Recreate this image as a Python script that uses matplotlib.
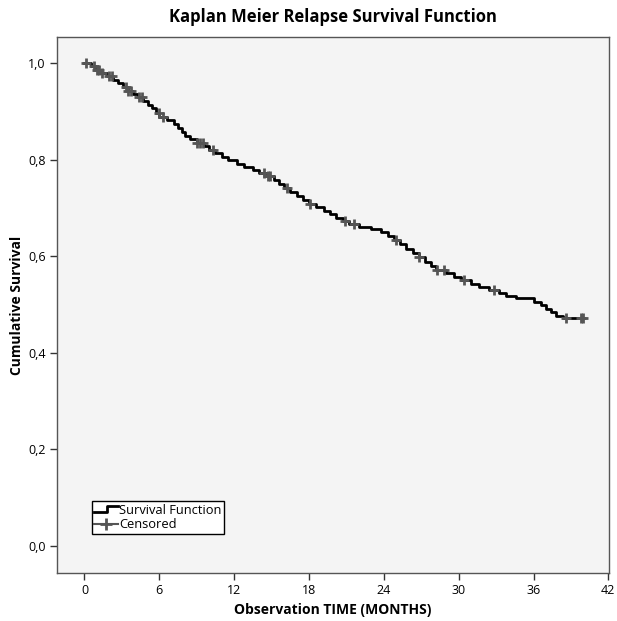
import matplotlib
matplotlib.use("Agg")
import matplotlib.pyplot as plt
import numpy as np
from matplotlib.lines import Line2D
from matplotlib.legend_handler import HandlerBase

# ---- data ----
event_times = [0.0, 0.5, 0.9, 1.3, 1.8, 2.3, 2.7, 3.1, 3.5, 3.9, 4.3, 4.7, 5.1, 5.4, 5.7,
               6.0, 6.6, 7.2, 7.5, 7.8, 8.1, 8.5, 9.0, 9.6, 10.0, 10.5, 11.0, 11.5, 12.2,
               12.8, 13.5, 14.0, 14.6, 15.2, 15.6, 16.0, 16.5, 17.0, 17.5, 18.0, 18.6,
               19.2, 19.7, 20.2, 20.7, 21.2, 22.0, 23.0, 23.8, 24.3, 24.8, 25.3, 25.8,
               26.3, 26.8, 27.3, 27.8, 28.2, 29.0, 29.6, 30.2, 31.0, 31.6, 32.4, 33.2,
               33.8, 34.6, 36.0, 36.6, 37.0, 37.4, 37.8, 38.4]
survival = [1.000, 0.993, 0.986, 0.980, 0.974, 0.966, 0.958, 0.950, 0.943, 0.936, 0.929,
            0.922, 0.914, 0.906, 0.897, 0.888, 0.882, 0.874, 0.866, 0.858, 0.850, 0.842,
            0.835, 0.828, 0.820, 0.813, 0.806, 0.799, 0.792, 0.785, 0.779, 0.773, 0.766,
            0.758, 0.750, 0.741, 0.733, 0.724, 0.717, 0.709, 0.701, 0.694, 0.687, 0.680,
            0.672, 0.666, 0.661, 0.657, 0.650, 0.642, 0.634, 0.625, 0.616, 0.607, 0.598,
            0.589, 0.580, 0.572, 0.566, 0.558, 0.550, 0.542, 0.536, 0.530, 0.524, 0.518,
            0.513, 0.506, 0.499, 0.491, 0.484, 0.476, 0.472]
end_time = 40.0
censor_times = [0.15, 0.8, 1.0, 1.2, 1.4, 2.0, 2.2, 3.3, 3.5, 3.7, 4.4, 4.6, 5.95, 6.3,
                9.0, 9.3, 9.5, 10.3, 14.4, 14.7, 14.9, 16.2, 18.1, 20.9, 21.6, 25.0,
                26.8, 28.3, 28.8, 30.4, 32.8, 38.6, 39.8]

x_ticks = [0, 6, 12, 18, 24, 30, 36, 42]
y_ticks = [0.0, 0.2, 0.4, 0.6, 0.8, 1.0]
y_tick_labels = ["0,0", "0,2", "0,4", "0,6", "0,8", "1,0"]

title = "Kaplan Meier Relapse Survival Function"
x_label = "Observation TIME (MONTHS)"
y_label = "Cumulative Survival"

# ---- plot ----
plt.rcParams['font.family'] = ['Open Sans', 'DejaVu Sans']

fig = plt.figure(figsize=(6.17, 6.21), dpi=100)
ax = fig.add_axes([0.0924, 0.0773, 0.8946, 0.8631])
ax.set_facecolor('#f4f4f4')

xs = list(event_times) + [end_time]
ys = list(survival) + [survival[-1]]
ax.step(xs, ys, where='post', color='black', lw=2.0, zorder=3)

et = np.array(event_times)
sv = np.array(survival)
cy = [sv[np.searchsorted(et, c, side='right') - 1] for c in censor_times + [end_time]]
ax.plot(censor_times + [end_time], cy, linestyle='none', marker='+', color='#555555',
        markersize=7, markeredgewidth=2.0, zorder=4)

ax.set_xlim(-2.2, 42.05)
ax.set_ylim(-0.056, 1.054)
ax.set_xticks(x_ticks)
ax.set_yticks(y_ticks)
ax.set_yticklabels(y_tick_labels)
ax.tick_params(direction='out', length=5, width=1, labelsize=9, color='#333333', pad=3)
for s in ax.spines.values():
    s.set_color('#555555')
    s.set_linewidth(1.0)

ax.set_title(title, fontsize=12, fontweight='bold', pad=11)
ax.set_xlabel(x_label, fontsize=10, fontweight='bold', labelpad=4)
ax.set_ylabel(y_label, fontsize=10, fontweight='bold', labelpad=3)


class HandlerStep(HandlerBase):
    def create_artists(self, legend, orig_handle, xdescent, ydescent, width, height, fontsize, trans):
        x0, x1 = -xdescent, -xdescent + width
        ym = height / 2 - ydescent
        xx = [x0, x0 + width * 0.55, x0 + width * 0.55, x1]
        yy = [ym - height * 0.25, ym - height * 0.25, ym + height * 0.35, ym + height * 0.35]
        ln = Line2D(xx, yy, color='black', lw=2.0)
        ln.set_transform(trans)
        return [ln]


h1 = Line2D([], [], color='black', lw=2)
h2 = Line2D([], [], color='#555555', lw=1.5, marker='+', markersize=9, markeredgewidth=2)
leg = ax.legend([h1, h2], ["Survival Function", "Censored"],
                handler_map={h1: HandlerStep()},
                loc='lower left', bbox_to_anchor=(0.063, 0.073), borderaxespad=0,
                fontsize=9.3, frameon=True, fancybox=False, edgecolor='black',
                facecolor='white', framealpha=1, handlelength=1.8, handletextpad=0.1,
                borderpad=0.2, labelspacing=0.1)
leg.get_frame().set_linewidth(1.0)

fig.savefig('out.png', dpi=100)
